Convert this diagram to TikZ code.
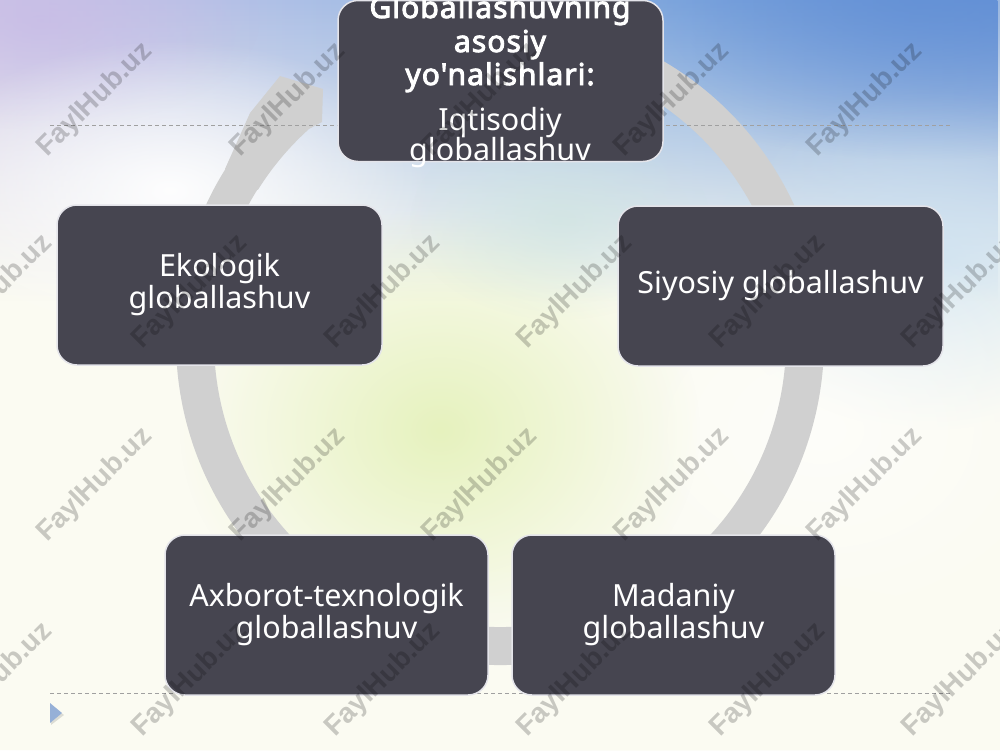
\documentclass[tikz,border=0pt]{standalone}
\usepackage{fontspec}
\setmainfont{Noto Sans}
\newfontfamily\boldfam{Noto Sans}[FakeBold=3, LetterSpace=3.5]
\newfontfamily\wmfont{Liberation Sans Bold}
\usetikzlibrary{fadings}
\definecolor{boxdark}{RGB}{70,69,80}
\definecolor{ringgray}{RGB}{208,208,208}
\definecolor{bgcream}{RGB}{251,251,242}
\definecolor{skyleft}{RGB}{205,200,232}
\definecolor{skymid}{RGB}{150,185,228}
\definecolor{skyright}{RGB}{100,145,214}
\definecolor{lavender}{RGB}{200,186,230}
\definecolor{glowgreen}{RGB}{230,242,190}
\definecolor{glowteal}{RGB}{205,228,222}
\definecolor{paleblue}{RGB}{205,226,242}
\definecolor{dashgray}{RGB}{160,160,160}
\definecolor{triblue}{RGB}{150,176,215}
\tikzfading[name=fadedown, top color=transparent!0, bottom color=transparent!100]
\tikzfading[name=glow, inner color=transparent!0, outer color=transparent!100]
\tikzset{
  box/.style={draw={rgb,255:red,228;green,228;blue,234}, line width=1.5pt, fill=boxdark,
    rounded corners=20pt, text=white, align=center,
    font=\fontsize{30.5}{32}\selectfont, inner sep=0pt},
  boldline/.style={text=white, anchor=base, inner sep=0pt, font=\boldfam\fontsize{30}{32}\selectfont},
  regline/.style={text=white, anchor=base, inner sep=0pt, font=\fontsize{30.5}{32}\selectfont},
  wm/.style={rotate=45, text=black, opacity=0.2, font=\wmfont\fontsize{28}{28}\selectfont, inner sep=0pt},
  guide/.style={dashgray, line width=0.9pt, dash pattern=on 4pt off 3pt}
}
\begin{document}
\begin{tikzpicture}[x=1pt,y=-1pt]
\useasboundingbox (0,0) rectangle (1000,750);
% background
\fill[bgcream] (0,0) rectangle (1000,750);
\shade[left color=skyleft, right color=skyright, middle color=skymid, path fading=fadedown] (0,0) rectangle (1000,300);
\fill[paleblue, path fading=glow, opacity=0.8] (930,260) ellipse [x radius=220, y radius=170];
\fill[skyright, path fading=glow, opacity=0.8] (920,0) ellipse [x radius=360, y radius=160];
\fill[lavender, path fading=glow, opacity=0.7] (40,20) ellipse [x radius=220, y radius=110];
\fill[white, path fading=glow, opacity=0.95] (170,190) ellipse [x radius=260, y radius=150];
\fill[white, path fading=glow, opacity=0.6] (820,430) ellipse [x radius=260, y radius=200];
\fill[glowgreen, path fading=glow] (440,430) ellipse [x radius=260, y radius=220];
\fill[glowteal, path fading=glow, opacity=0.6] (560,220) ellipse [x radius=150, y radius=100];
\fill[bgcream, path fading=glow, opacity=0.8] (500,730) ellipse [x radius=650, y radius=170];
% ring arrow
\draw[ringgray, line width=38pt] (500,341) ++(-80:305) arc[start angle=-80, end angle=215, radius=305];
\fill[ringgray] (225,169) -- (250,113) -- (280,76) -- (323,89) -- (322,122) -- (309,129)
  arc[start angle=228, end angle=212, radius=286] -- cycle;
% guide lines
\draw[guide] (50,125) -- (950,125);
\draw[guide] (50,693) -- (950,693);
\fill[black, opacity=0.12] (51,705) -- (64,715) -- (51,725) -- cycle;
\fill[triblue] (50,703) -- (62,713) -- (50,723) -- cycle;
% boxes
\node[box, minimum width=325pt, minimum height=161pt] (top) at (500.5,81) {};
\node[boldline] (t1) at (500,18) {Globallashuvning};
\node[boldline] (t2) at (500,52) {asosiy};
\node[boldline] (t3) at (500,85) {yo\char39 nalishlari:};
\node[regline] (t4) at (500,130) {Iqtisodiy};
\node[regline] (t5) at (500,160) {globallashuv};
\node[box, minimum width=325pt, minimum height=160pt] (eko) at (219.5,285) {Ekologik\\globallashuv};
\node[box, minimum width=325pt, minimum height=160pt] (siy) at (780.5,286) {Siyosiy globallashuv};
\node[box, minimum width=323pt, minimum height=160pt] (axb) at (326.5,615) {Axborot-texnologik\\globallashuv};
\node[box, minimum width=323pt, minimum height=160pt] (mad) at (673.5,615) {Madaniy\\globallashuv};
% watermarks
\foreach \x [count=\i] in {95,288,480,672,865} {
  \node[wm] (wa\i) at (\x,100) {FaylHub.uz};
  \node[wm] (wc\i) at (\x,485) {FaylHub.uz};
}
\foreach \x [count=\i] in {-5,190,383,575,768,960} {
  \node[wm] (wb\i) at (\x,292) {FaylHub.uz};
  \node[wm] (wd\i) at (\x,680) {FaylHub.uz};
}
\end{tikzpicture}
\end{document}
